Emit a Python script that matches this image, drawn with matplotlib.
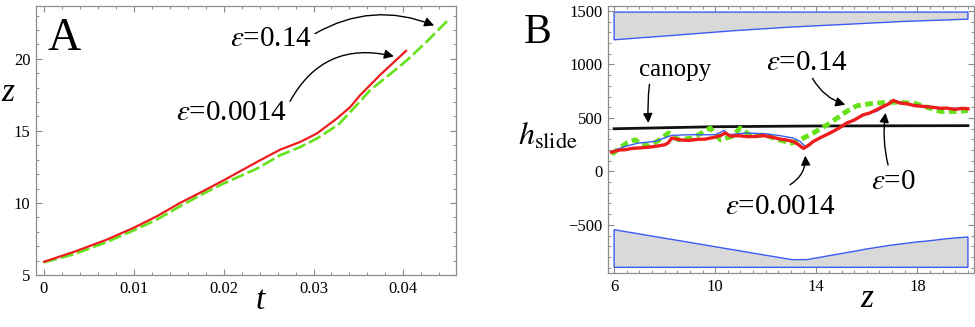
import matplotlib
matplotlib.use("Agg")
import matplotlib.pyplot as plt
from matplotlib.ticker import MultipleLocator

plt.rcParams['font.family'] = ['Liberation Serif', 'DejaVu Serif']
plt.rcParams['mathtext.fontset'] = 'stix'

# ---------------- Panel A data ----------------
tA_red = [0.0, 0.00327, 0.00698, 0.01, 0.01255, 0.01515, 0.01775, 0.02, 0.0237, 0.0263, 0.02852, 0.03038,
          0.03261, 0.0341, 0.0352, 0.0374, 0.0403]
zA_red = [5.92, 6.59, 7.45, 8.28, 9.07, 10.0, 10.83, 11.57, 12.84, 13.7, 14.23, 14.82,
          15.86, 16.66, 17.48, 18.87, 20.55]
tA_grn = [0.0, 0.00327, 0.00698, 0.01, 0.01255, 0.01515, 0.01775, 0.02, 0.0237, 0.0263, 0.02852, 0.03038,
          0.0328, 0.0348, 0.0363, 0.0384, 0.0404, 0.0426, 0.0449]
zA_grn = [5.88, 6.43, 7.28, 8.1, 8.84, 9.77, 10.65, 11.35, 12.38, 13.31, 13.88, 14.47,
          15.45, 16.78, 17.82, 18.87, 19.9, 21.18, 22.64]

# ---------------- Panel B data ----------------
zB_canopy = [6.0, 10.0, 14.0, 20.0]
hB_canopy = [399, 418, 425, 428]

zB_up = [6.0, 8.5, 10.85, 13.0, 14.8, 17.4, 20.0]
hB_up_low = [1231, 1275, 1318, 1350, 1371, 1402, 1424]
hB_up_top = 1490

zB_lo = [6.0, 13.03, 13.62, 15.47, 16.0, 16.92, 17.97, 18.5, 19.16, 20.0]
hB_lo_top = [-545, -825, -825, -748, -725, -691, -660, -648, -629, -613]
hB_lo_bot = -897

zB_blue = [5.9, 6.44, 6.96, 7.62, 8.28, 8.94, 9.6, 10.0, 10.36, 10.52, 11.18, 11.97, 12.57, 13.09, 13.36, 13.56,
           14.54, 15.2, 15.86, 16.39, 16.65, 17.05, 17.58, 18.24, 19.16, 20.0]
hB_blue = [187, 234, 265, 281, 337, 343, 343, 343, 383, 343, 359, 353, 334, 312, 280, 234,
           359, 452, 530, 562, 600, 664, 633, 608, 592, 586]

zB_red = [5.9, 6.2, 6.44, 6.7, 6.96, 7.3, 7.62, 8.02, 8.15, 8.28, 8.6, 8.94, 9.3, 9.6, 10.0, 10.2, 10.4, 10.6, 10.92,
          11.3, 11.58, 11.9, 12.24, 12.57, 12.77, 13.09, 13.3, 13.49, 13.7, 13.88, 14.2, 14.54, 14.9, 15.2, 15.5,
          15.86, 16.1, 16.39, 16.65, 16.85, 17.05, 17.3, 17.58, 17.9, 18.24, 18.6, 18.9, 19.16, 19.5, 19.75, 20.0]
hB_red = [180, 200, 203, 215, 219, 225, 234, 250, 270, 312, 295, 290, 300, 302, 321, 335, 359, 330, 334,
          325, 327, 335, 321, 302, 296, 280, 250, 215, 245, 280, 320, 359, 405, 452, 480,
          530, 545, 577, 608, 630, 664, 640, 633, 615, 608, 600, 590, 592, 580, 590, 586]

zB_grn = [5.9, 6.2, 6.5, 6.83, 7.1, 7.36, 7.7, 8.15, 8.55, 9.07, 9.47, 9.8, 10.2, 10.66, 10.99, 11.45, 11.97, 12.5,
          13.03, 13.36, 13.88, 14.54, 15.2, 15.6, 16.13, 16.92, 17.84, 18.37, 18.9, 19.7, 20.0]
hB_grn = [160, 215, 265, 296, 250, 240, 280, 359, 296, 312, 359, 405, 296, 327, 405, 327, 343, 296,
          265, 296, 359, 452, 561, 614, 633, 648, 639, 602, 561, 561, 570]

labels_A = [r'$\varepsilon$=0.14', r'$\varepsilon$=0.0014']
labels_B = ['canopy', r'$\varepsilon$=0.14', r'$\varepsilon$=0', r'$\varepsilon$=0.0014']

fig = plt.figure(figsize=(9.75, 3.27), dpi=100)
axA = fig.add_axes([36/975, 52/327, 420/975, 269/327])
axB = fig.add_axes([608.3/975, 54/327, 365.7/975, 267/327])

frame_col = '#8c8c8c'
for ax in (axA, axB):
    for s in ax.spines.values():
        s.set_color(frame_col)
        s.set_linewidth(0.9)
    ax.tick_params(which='both', direction='in', top=True, right=True, color=frame_col,
                   labelsize=12, pad=4)
    ax.tick_params(which='major', length=4, width=0.8)
    ax.tick_params(which='minor', length=2.5, width=0.7)

green = '#66e21a'
red = '#ee1c1c'
blue = '#3a5cf5'

# ---- Panel A ----
axA.plot(tA_grn, zA_grn, color=green, lw=1.9, dashes=(5, 1.5), zorder=2)
axA.plot(tA_red, zA_red, color=red, lw=1.6, zorder=3)
axA.set_xlim(-0.00089, 0.04586)
axA.set_ylim(5.0, 23.66)
axA.xaxis.set_minor_locator(MultipleLocator(0.002))
axA.yaxis.set_major_locator(MultipleLocator(5))
axA.yaxis.set_minor_locator(MultipleLocator(1))
axA.set_xticks([0, 0.01, 0.02, 0.03, 0.04])
axA.set_xticklabels(['0', '0.01', '0.02', '0.03', '0.04'])
axA.set_xlabel('t', fontsize=24, style='italic')
axA.xaxis.label.set_va('center')
axA.xaxis.set_label_coords((260 - 36) / 420, -(301 - 275) / 269)
axA.set_ylabel('z', fontsize=24, style='italic', rotation=0)
axA.yaxis.label.set_va('center')
axA.yaxis.label.set_ha('center')
axA.yaxis.set_label_coords((8 - 36) / 420, (327 - 93 - 52) / 269)
axA.text(0.068, 0.88, 'A', transform=axA.transAxes, fontsize=33, ha='center', va='center')

axA.annotate(labels_A[0], xy=(0.04357, 22.27), xytext=(0.0253, 21.36), fontsize=21, ha='center', va='center',
             arrowprops=dict(arrowstyle='-|>', color='black', lw=1.0, shrinkA=0, shrinkB=1,
                             mutation_scale=14, connectionstyle='arc3,rad=-0.25',
                             relpos=(1.0, 0.65)))
axA.annotate(labels_A[1], xy=(0.0391, 20.14), xytext=(0.0209, 16.23), fontsize=21, ha='center', va='center',
             arrowprops=dict(arrowstyle='-|>', color='black', lw=1.0, shrinkA=0, shrinkB=1,
                             mutation_scale=14, connectionstyle='arc3,rad=-0.4',
                             relpos=(1.0, 0.75)))

# ---- Panel B ----
up_poly_z = [zB_up[0]] + zB_up + [zB_up[-1]]
up_poly_h = [hB_up_top] + hB_up_low + [hB_up_top]
axB.fill(up_poly_z, up_poly_h, facecolor='#d9d9d9', edgecolor=blue, lw=1.0, zorder=1)
lo_poly_z = [zB_lo[0]] + zB_lo + [zB_lo[-1]]
lo_poly_h = [hB_lo_bot] + hB_lo_top + [hB_lo_bot]
axB.fill(lo_poly_z, lo_poly_h, facecolor='#d9d9d9', edgecolor=blue, lw=1.0, zorder=1)

axB.plot(zB_canopy, hB_canopy, color='#111111', lw=2.0, zorder=2)
axB.plot(zB_grn, hB_grn, color=green, lw=3.5, dashes=(1.6, 0.9), zorder=3)
axB.plot(zB_blue, hB_blue, color=blue, lw=1.0, zorder=4)
axB.plot(zB_red, hB_red, color=red, lw=2.4, zorder=5)

axB.set_xlim(5.77, 20.24)
axB.set_ylim(-950, 1547)
axB.set_xticks([6, 10, 14, 18])
axB.xaxis.set_minor_locator(MultipleLocator(0.5))
axB.set_yticks([-500, 0, 500, 1000, 1500])
axB.set_yticklabels(['\u2212500', '0', '500', '1000', '1500'])
axB.yaxis.set_minor_locator(MultipleLocator(100))
axB.set_xlabel('z', fontsize=24, style='italic')
axB.xaxis.label.set_va('center')
axB.xaxis.set_label_coords((867 - 608.3) / 365.7, -(299 - 273) / 267)
axB.set_ylabel(r'$h_{\rm slide}$', fontsize=23, rotation=0)
axB.yaxis.label.set_va('center')
axB.yaxis.label.set_ha('center')
axB.yaxis.set_label_coords((548 - 608.3) / 365.7, (327 - 137 - 54) / 267)
fig.text(538/975, 1 - 33/327, 'B', fontsize=30, ha='center', va='center')

arrow_kw = dict(arrowstyle='-|>', color='black', lw=1.0, shrinkA=0, shrinkB=1, mutation_scale=14)
axB.text(8.41, 950, labels_B[0], fontsize=18, ha='center', va='center')
axB.annotate('', xy=(7.36, 440), xytext=(7.4, 815), arrowprops=dict(connectionstyle='arc3,rad=0.05', **arrow_kw))
axB.text(13.63, 1016, labels_B[1], fontsize=21, ha='center', va='center')
axB.annotate('', xy=(15.2, 620), xytext=(13.85, 870), arrowprops=dict(connectionstyle='arc3,rad=0.2', **arrow_kw))
axB.text(17.04, -96, labels_B[2], fontsize=21, ha='center', va='center')
axB.annotate('', xy=(16.75, 560), xytext=(16.84, 60), arrowprops=dict(connectionstyle='arc3,rad=-0.1', **arrow_kw))
axB.text(12.57, -330, labels_B[3], fontsize=21, ha='center', va='center')
axB.annotate('', xy=(13.56, 160), xytext=(12.96, -125), arrowprops=dict(connectionstyle='arc3,rad=0.3', **arrow_kw))

fig.savefig('out.png', dpi=100)
